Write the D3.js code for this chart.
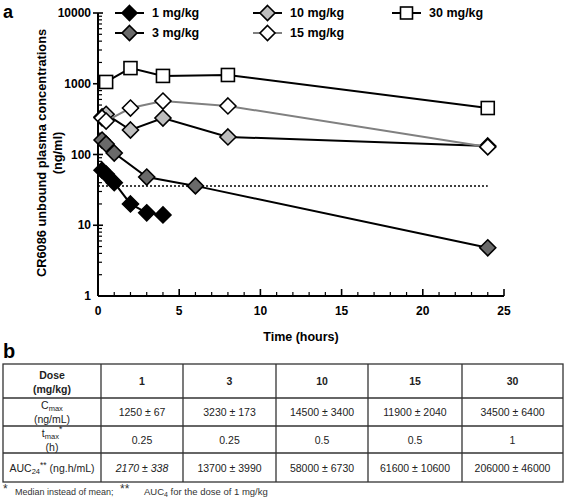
<!DOCTYPE html>
<html><head><meta charset="utf-8">
<script src="https://cdn.jsdelivr.net/npm/d3@7"></script>
<style>body{margin:0;background:#fff}svg{display:block;font-family:"Liberation Sans",Arial,sans-serif}</style>
</head><body><svg id="c" width="567" height="502"></svg>
<script>
// ---- data ----
const doses = ["1 mg/kg","3 mg/kg","10 mg/kg","15 mg/kg","30 mg/kg"];
const times1 = [0.25,0.5,1,2,3,4];
const conc1 = [60,53,40,20,15,14];
const times3 = [0.25,0.5,1,3,6,24];
const conc3 = [160,141,105,48,36,4.8];
const times10 = [0.25,0.5,2,4,8,24];
const conc10 = [340,370,222,328,177,132];
const times15 = [0.25,0.5,2,4,8,24];
const conc15 = [330,297,454,570,485,128];
const times30 = [0.5,2,4,8,24];
const conc30 = [1060,1665,1290,1330,454];
const threshold = 36;
const xTicks = [0,5,10,15,20,25];
const yTicks = [1,10,100,1000,10000];

const tableHeader = ["1","3","10","15","30"];
const cmaxRow = ["1250 \u00b1 67","3230 \u00b1 173","14500 \u00b1 3400","11900 \u00b1 2040","34500 \u00b1 6400"];
const tmaxRow = ["0.25","0.25","0.5","0.5","1"];
const aucRow = ["2170 \u00b1 338","13700 \u00b1 3990","58000 \u00b1 6730","61600 \u00b1 10600","206000 \u00b1 46000"];

const svg = d3.select("#c");
const x = d3.scaleLinear().domain([0,25]).range([98,504]);
const y = d3.scaleLog().domain([1,10000]).range([296,13]);

// ---- axes ----
const g = svg.append("g");
g.append("line").attr("x1",x(0)).attr("x2",x(0)).attr("y1",y(1)).attr("y2",y(10000)).attr("stroke","#000").attr("stroke-width",2);
g.append("line").attr("x1",x(0)).attr("x2",x(25)).attr("y1",y(1)).attr("y2",y(1)).attr("stroke","#000").attr("stroke-width",2);
const yMinor = [];
for (let d=1; d<10000; d*=10) for (let k=2;k<=9;k++) yMinor.push(d*k);
g.selectAll(".ym").data(yMinor).join("line").attr("x1",x(0)).attr("x2",x(0)+4)
  .attr("y1",d=>y(d)).attr("y2",d=>y(d)).attr("stroke","#000").attr("stroke-width",1.2);
g.selectAll(".yM").data(yTicks.slice(1)).join("line").attr("x1",x(0)-5).attr("x2",x(0)+5)
  .attr("y1",d=>y(d)).attr("y2",d=>y(d)).attr("stroke","#000").attr("stroke-width",1.6);
g.selectAll(".yl").data(yTicks).join("text").attr("x",91).attr("y",d=>y(d)).attr("dy","0.35em")
  .attr("text-anchor","end").attr("font-size",12).attr("font-weight","bold").text(d=>d);
const xMinor = d3.range(1,25).filter(d=>d%5!==0);
g.selectAll(".xm").data(xMinor).join("line").attr("x1",d=>x(d)).attr("x2",d=>x(d))
  .attr("y1",y(1)).attr("y2",y(1)-4).attr("stroke","#000").attr("stroke-width",1.2);
g.selectAll(".xM").data(xTicks.slice(1)).join("line").attr("x1",d=>x(d)).attr("x2",d=>x(d))
  .attr("y1",y(1)).attr("y2",y(1)-7).attr("stroke","#000").attr("stroke-width",1.6);
g.selectAll(".xl").data(xTicks).join("text").attr("x",d=>x(d)).attr("y",311).attr("dy","0.35em")
  .attr("text-anchor","middle").attr("font-size",12).attr("font-weight","bold").text(d=>d);

svg.append("text").attr("x",301).attr("y",337).attr("dy","0.35em").attr("text-anchor","middle")
  .attr("font-size",12.5).attr("font-weight","bold").text("Time (hours)");
svg.append("text").attr("transform","translate(42,153) rotate(-90)").attr("dy","0.35em").attr("text-anchor","middle")
  .attr("font-size",12.8).attr("font-weight","bold").text("CR6086 unbound plasma concentrations");
svg.append("text").attr("transform","translate(58,153) rotate(-90)").attr("dy","0.35em").attr("text-anchor","middle")
  .attr("font-size",12.8).attr("font-weight","bold").text("(ng/ml)");
svg.append("text").attr("x",3).attr("y",18).attr("font-size",18).attr("font-weight","bold").text("a");
svg.append("text").attr("x",3).attr("y",358).attr("font-size",20).attr("font-weight","bold").text("b");

svg.append("line").attr("x1",x(0)).attr("x2",x(24)).attr("y1",y(threshold)).attr("y2",y(threshold))
  .attr("stroke","#000").attr("stroke-width",1.5).attr("stroke-dasharray","2,2");

// ---- series ----
const series = [
  {name:doses[4], t:times30, c:conc30, line:"#000", fill:"#fff", shape:"square"},
  {name:doses[2], t:times10, c:conc10, line:"#000", fill:"#bdbdbd", shape:"diamond"},
  {name:doses[3], t:times15, c:conc15, line:"#808080", fill:"#fff", shape:"diamond"},
  {name:doses[1], t:times3, c:conc3, line:"#000", fill:"#6a6a6a", shape:"diamond"},
  {name:doses[0], t:times1, c:conc1, line:"#000", fill:"#000", shape:"diamond"},
];
const lineGen = d3.line().x(d=>x(d[0])).y(d=>y(d[1]));
function marker(sel, s, cx, cy, big){
  if (s.shape==="square"){
    const h = big?6.5:6;
    sel.append("rect").attr("x",cx-h).attr("y",cy-h).attr("width",2*h).attr("height",2*h)
      .attr("fill",s.fill).attr("stroke","#000").attr("stroke-width",1.6);
  } else {
    const r = big?8:7.5;
    sel.append("path").attr("d",`M${cx},${cy-r}L${cx+r},${cy}L${cx},${cy+r}L${cx-r},${cy}Z`)
      .attr("fill",s.fill).attr("stroke","#000").attr("stroke-width",1.6);
  }
}
series.forEach(s=>{
  const pts = s.t.map((t,i)=>[t,s.c[i]]);
  const sg = svg.append("g");
  sg.append("path").attr("d",lineGen(pts)).attr("fill","none").attr("stroke",s.line).attr("stroke-width",2);
  pts.forEach(p=>marker(sg, s, x(p[0]), y(p[1]), true));
});

// ---- legend ----
const legendPos = [
  {s:series[4], lx:115, ly:13},
  {s:series[3], lx:115, ly:33},
  {s:series[1], lx:253, ly:13},
  {s:series[2], lx:253, ly:33},
  {s:series[0], lx:392, ly:13},
];
legendPos.forEach(l=>{
  const lg = svg.append("g");
  lg.append("line").attr("x1",l.lx).attr("x2",l.lx+29).attr("y1",l.ly).attr("y2",l.ly)
    .attr("stroke",l.s.line).attr("stroke-width",2);
  marker(lg, l.s, l.lx+14.5, l.ly, false);
  lg.append("text").attr("x",l.lx+37).attr("y",l.ly).attr("dy","0.35em").attr("font-size",12.5)
    .attr("font-weight","bold").text(l.s.name);
});

// ---- table ----
const colX = [3,101,183,276,368,462,563];
const rowY = [364,398,426,453,482];
const tg = svg.append("g").attr("fill","#222");
tg.append("rect").attr("x",colX[0]).attr("y",rowY[0]).attr("width",colX[6]-colX[0]).attr("height",rowY[4]-rowY[0])
  .attr("fill","none").attr("stroke","#333").attr("stroke-width",1.3);
colX.slice(1,6).forEach(cx=>tg.append("line").attr("x1",cx).attr("x2",cx).attr("y1",rowY[0]).attr("y2",rowY[4]).attr("stroke","#333").attr("stroke-width",1.3));
rowY.slice(1,4).forEach(ry=>tg.append("line").attr("x1",colX[0]).attr("x2",colX[6]).attr("y1",ry).attr("y2",ry).attr("stroke","#333").attr("stroke-width",1.3));
const mid = i => (colX[i]+colX[i+1])/2;
function txt(xx,yy,str,opts={}){
  return tg.append("text").attr("x",xx).attr("y",yy).attr("dy","0.35em").attr("text-anchor","middle")
    .attr("font-size",opts.fs||10.5).attr("font-weight",opts.bold?"bold":null).attr("font-style",opts.it?"italic":null).text(str);
}
txt(mid(0),375,"Dose",{bold:true}); txt(mid(0),389,"(mg/kg)",{bold:true});
tableHeader.forEach((h,i)=>txt(mid(i+1),381,h,{bold:true}));
let t1 = txt(mid(0),405,"C"); t1.append("tspan").attr("font-size",7.5).attr("dy","0.3em").text("max");
txt(mid(0),419,"(ng/mL)");
cmaxRow.forEach((v,i)=>txt(mid(i+1),412,v));
let t2 = txt(mid(0),433,"t"); t2.append("tspan").attr("font-size",7.5).attr("dy","0.3em").text("max");
t2.append("tspan").attr("font-size",8.5).attr("dy","-0.8em").text("*");
txt(mid(0),447,"(h)");
tmaxRow.forEach((v,i)=>txt(mid(i+1),440,v));
let t3 = txt(mid(0),468,"AUC"); t3.append("tspan").attr("font-size",7.5).attr("dy","0.3em").text("24");
t3.append("tspan").attr("font-size",8.5).attr("dy","-0.75em").text("**");
t3.append("tspan").attr("dy","0.45em").text(" (ng.h/mL)");
aucRow.forEach((v,i)=>txt(mid(i+1),468,v,{it:i===0}));

// footnote
const fn = svg.append("g").attr("fill","#333");
fn.append("text").attr("x",3).attr("y",493).attr("font-size",12).text("*");
fn.append("text").attr("x",15).attr("y",492).attr("dy","0.35em").attr("font-size",9).text("Median instead of mean;");
fn.append("text").attr("x",120).attr("y",493).attr("font-size",12).text("**");
const fa = fn.append("text").attr("x",144).attr("y",492).attr("dy","0.35em").attr("font-size",9.5);
fa.append("tspan").text("AUC");
fa.append("tspan").attr("font-size",7).attr("dy","0.3em").text("4");
fa.append("tspan").attr("dy","-0.3em").text(" for the dose of 1 mg/kg");
</script></body></html>
